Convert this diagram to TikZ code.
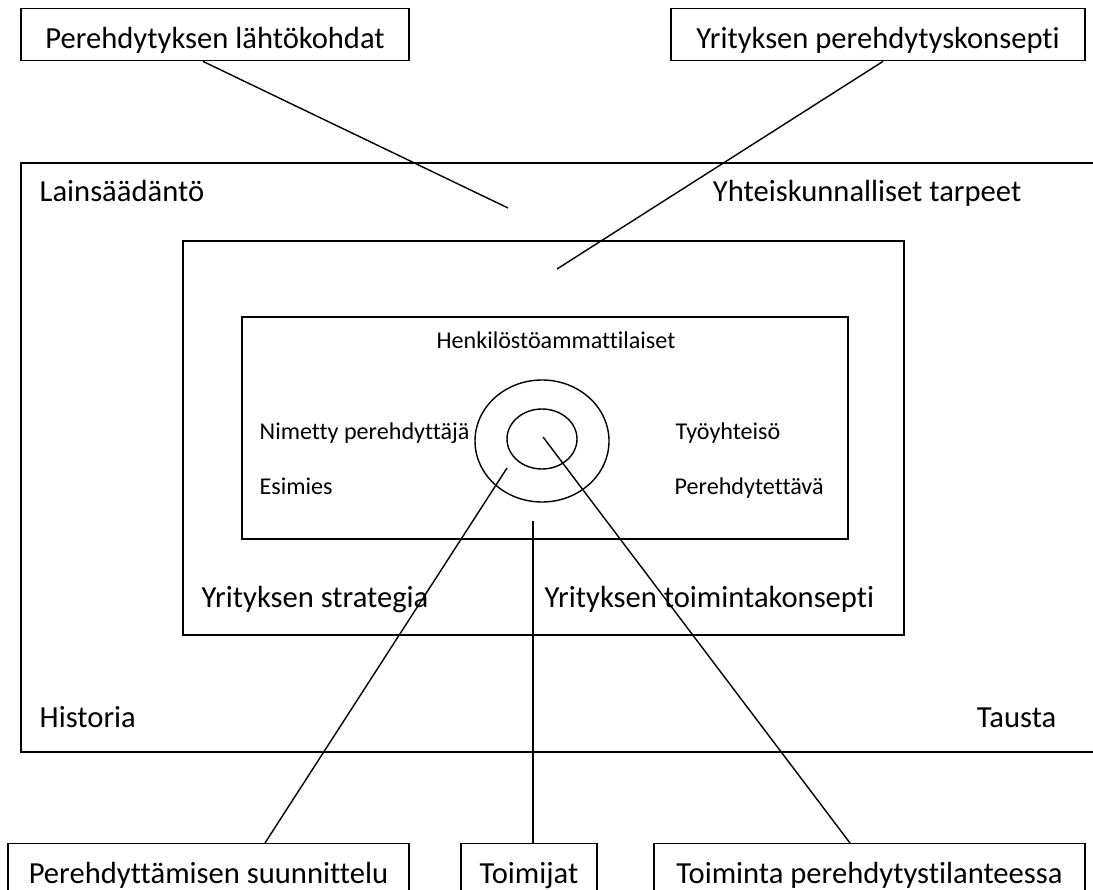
\documentclass[tikz,border=0pt]{standalone}
\usepackage{fontspec}
\setmainfont{Carlito}[Ligatures=NoCommon]

\tikzset{
	bigtext/.style={font=\fontsize{30.6}{36}\selectfont, inner sep=0pt},
	smalltext/.style={font=\fontsize{24.1}{29}\selectfont, inner sep=0pt},
	boxlabel/.style={bigtext, draw, anchor=north, text height=40pt, text depth=12pt}
}

\begin{document}
\begin{tikzpicture}[x=1pt, y=-1pt, line width=1.4pt]
	\useasboundingbox (0, 0) rectangle (1093, 890);
	\clip (0, 0) rectangle (1093, 890);

	% frames
	\draw (1100, 163) -| (21, 752) -- (1100, 752);
	\draw (183, 241) rectangle (904, 635);
	\draw (242, 317) rectangle (848, 539);
	\draw (542, 441) ellipse [x radius=67pt, y radius=61pt];
	\draw (542, 439) ellipse [x radius=35pt, y radius=30pt];

	% boxes
	\node[boxlabel, minimum width=388pt] (lahto) at (215, 8) {Perehdytyksen lähtökohdat};
	\node[boxlabel, minimum width=414pt] (konsepti) at (878, 8) {Yrityksen perehdytyskonsepti};
	\node[boxlabel, minimum width=401pt] (suunn) at (208.5, 843) {Perehdyttämisen suunnittelu};
	\node[boxlabel, minimum width=136pt] (toimijat) at (529, 843) {Toimijat};
	\node[boxlabel, minimum width=431pt] (toiminta) at (869.5, 843) {Toiminta perehdytystilanteessa};

	% texts
	\node[bigtext, anchor=base west] (lain) at (39, 202) {Lainsäädäntö};
	\node[bigtext, anchor=base east] (yhteis) at (1022, 202) {Yhteiskunnalliset tarpeet};
	\node[bigtext, anchor=base west] (hist) at (39, 727) {Historia};
	\node[bigtext, anchor=base east] (tausta) at (1057, 727) {Tausta};
	\node[bigtext, anchor=base west] (strat) at (201, 607) {Yrityksen strategia};
	\node[bigtext, anchor=base west] (toimk) at (544, 607) {Yrityksen toimintakonsepti};
	\node[smalltext, anchor=base] (henk) at (556, 349) {Henkilöstöammattilaiset};
	\node[smalltext, anchor=base west] (nimetty) at (259, 440) {Nimetty perehdyttäjä};
	\node[smalltext, anchor=base west] (esim) at (259, 495) {Esimies};
	\node[smalltext, anchor=base west] (tyoy) at (675, 440) {Työyhteisö};
	\node[smalltext, anchor=base west] (pereh) at (674, 495) {Perehdytettävä};

	% free ends
	\coordinate (lahtoend) at (508, 208);
	\coordinate (konsend) at (557, 269);
	\coordinate (suunnend) at (507, 468);
	\coordinate (toimijatend) at (533, 521);
	\coordinate (toimintaend) at (543, 437);

	% connectors
	\draw ([xshift=-12pt]lahto.south) -- (lahtoend);
	\draw ([xshift=5pt]konsepti.south) -- (konsend);
	\draw ([xshift=56.5pt]suunn.north) -- (suunnend);
	\draw ([xshift=4pt]toimijat.north) -- (toimijatend);
	\draw ([xshift=-19.5pt]toiminta.north) -- (toimintaend);
\end{tikzpicture}
\end{document}
